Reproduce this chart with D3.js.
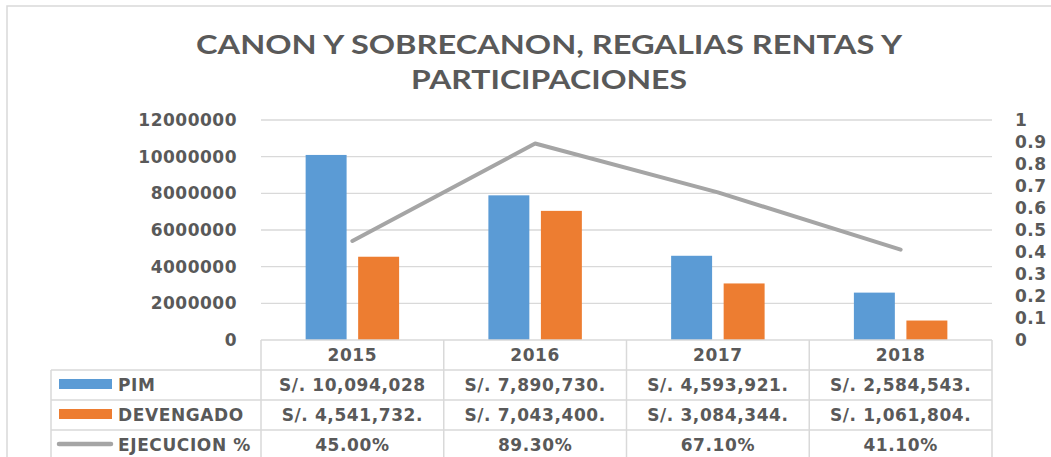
<!DOCTYPE html>
<html>
<head>
<meta charset="utf-8">
<script src="https://d3js.org/d3.v7.min.js"></script>
<style>
  html, body { margin: 0; padding: 0; background: #fff; }
  svg { display: block; }
</style>
</head>
<body>
<div id="chart"></div>
<script>
// Canon y sobrecanon chart - bars + line with data table underneath

const years = ['2015', '2016', '2017', '2018'];
const pim = [10094028, 7890730, 4593921, 2584543];
const devengado = [4541732, 7043400, 3084344, 1061804];
const ejecucion = [0.45, 0.893, 0.671, 0.411];

const pimLabels = ['S/. 10,094,028', 'S/. 7,890,730.', 'S/. 4,593,921.', 'S/. 2,584,543.'];
const devLabels = ['S/. 4,541,732.', 'S/. 7,043,400.', 'S/. 3,084,344.', 'S/. 1,061,804.'];
const ejecLabels = ['45.00%', '89.30%', '67.10%', '41.10%'];

const leftTicks = [0, 2000000, 4000000, 6000000, 8000000, 10000000, 12000000];
const rightTicks = [0, 0.1, 0.2, 0.3, 0.4, 0.5, 0.6, 0.7, 0.8, 0.9, 1];

const titleLines = ['CANON Y SOBRECANON, REGALIAS RENTAS Y', 'PARTICIPACIONES'];

const width = 1051;
const height = 457;
const textColor = '#595959';
const gridColor = '#d9d9d9';
const colors = { pim: '#5b9bd5', dev: '#ed7d31', ejec: '#a5a5a5' };
const tableFont = '"DejaVu Sans", Verdana, sans-serif';

const svg = d3.select('#chart')
  .append('svg')
  .attr('width', width)
  .attr('height', height);

// outer frame of the chart object
svg.append('rect')
  .attr('x', 7)
  .attr('y', 6)
  .attr('width', width + 20)
  .attr('height', height + 20)
  .style('fill', '#fff')
  .style('stroke', gridColor)
  .style('stroke-width', 1.5);

// Title
svg.selectAll('.title')
  .data(titleLines)
  .enter()
  .append('text')
  .attr('class', 'title')
  .attr('x', 549)
  .attr('y', (d, i) => 54 + i * 35)
  .attr('text-anchor', 'middle')
  .attr('textLength', (d, i) => i === 0 ? 706 : 276)
  .attr('lengthAdjust', 'spacingAndGlyphs')
  .style('font-family', 'Lato, "Open Sans", sans-serif')
  .style('font-size', '27px')
  .style('font-weight', 'bold')
  .style('fill', textColor)
  .text(d => d);

// Scales
const plotLeft = 261, plotRight = 992, plotTop = 120, plotBottom = 340;

const x = d3.scaleBand()
  .domain(years)
  .range([plotLeft, plotRight]);

const xInner = d3.scaleBand()
  .domain(['pim', 'dev'])
  .range([0, x.bandwidth()])
  .paddingInner(0.22)
  .paddingOuter(0.85);

const yLeft = d3.scaleLinear()
  .domain([0, 12000000])
  .range([plotBottom, plotTop]);

const yRight = d3.scaleLinear()
  .domain([0, 1])
  .range([plotBottom, plotTop]);

// Gridlines
svg.selectAll('.grid')
  .data(leftTicks.filter(d => d > 0))
  .enter()
  .append('line')
  .attr('class', 'grid')
  .attr('x1', plotLeft)
  .attr('x2', plotRight)
  .attr('y1', d => yLeft(d))
  .attr('y2', d => yLeft(d))
  .style('stroke', gridColor)
  .style('stroke-width', 1.3);

// Axes
const leftAxis = svg.append('g')
  .attr('transform', `translate(${plotLeft},0)`)
  .call(d3.axisLeft(yLeft).tickValues(leftTicks).tickSize(0).tickPadding(24).tickFormat(d3.format('d')));

const rightAxis = svg.append('g')
  .attr('transform', `translate(${plotRight},0)`)
  .call(d3.axisRight(yRight).tickValues(rightTicks).tickSize(0).tickPadding(23).tickFormat(d => String(+d.toFixed(1))));

[leftAxis, rightAxis].forEach(ax => {
  ax.select('.domain').remove();
  ax.selectAll('text')
    .style('font-family', tableFont)
    .style('font-size', '17px')
    .style('letter-spacing', '0.5px')
    .style('font-weight', 'bold')
    .style('fill', textColor);
});

// Bars
const series = [
  { key: 'pim', values: pim },
  { key: 'dev', values: devengado }
];

series.forEach(s => {
  svg.selectAll('.bar-' + s.key)
    .data(years)
    .enter()
    .append('rect')
    .attr('class', 'bar-' + s.key)
    .attr('x', d => x(d) + xInner(s.key))
    .attr('width', xInner.bandwidth())
    .attr('y', (d, i) => yLeft(s.values[i]))
    .attr('height', (d, i) => plotBottom - yLeft(s.values[i]))
    .style('fill', colors[s.key]);
});

// Line (secondary axis)
const line = d3.line()
  .x((d, i) => x(years[i]) + x.bandwidth() / 2)
  .y(d => yRight(d));

svg.append('path')
  .datum(ejecucion)
  .attr('d', line)
  .style('fill', 'none')
  .style('stroke', colors.ejec)
  .style('stroke-width', 4)
  .style('stroke-linecap', 'round')
  .style('stroke-linejoin', 'round');

// Data table
const legendLeft = 51;
const rowH = 30;
const tableRows = [
  { name: 'PIM', labels: pimLabels, swatch: 'bar', color: colors.pim },
  { name: 'DEVENGADO', labels: devLabels, swatch: 'bar', color: colors.dev },
  { name: 'EJECUCION %', labels: ejecLabels, swatch: 'line', color: colors.ejec }
];
const tableBottom = plotBottom + rowH * (tableRows.length + 1);

const tbl = svg.append('g').attr('class', 'table');

// horizontal lines
tbl.append('line')
  .attr('x1', plotLeft).attr('x2', plotRight)
  .attr('y1', plotBottom).attr('y2', plotBottom);
tableRows.concat([null]).forEach((r, i) => {
  const yy = plotBottom + rowH * (i + 1);
  tbl.append('line')
    .attr('x1', legendLeft).attr('x2', plotRight)
    .attr('y1', yy).attr('y2', yy);
});

// vertical lines
years.forEach(yr => {
  tbl.append('line')
    .attr('x1', x(yr)).attr('x2', x(yr))
    .attr('y1', plotBottom).attr('y2', tableBottom);
});
tbl.append('line')
  .attr('x1', plotRight).attr('x2', plotRight)
  .attr('y1', plotBottom).attr('y2', tableBottom);
tbl.append('line')
  .attr('x1', legendLeft).attr('x2', legendLeft)
  .attr('y1', plotBottom + rowH).attr('y2', tableBottom);

tbl.selectAll('line')
  .style('stroke', gridColor)
  .style('stroke-width', 1.5);

// header row (years)
tbl.selectAll('.year')
  .data(years)
  .enter()
  .append('text')
  .attr('class', 'year')
  .attr('x', d => x(d) + x.bandwidth() / 2)
  .attr('y', plotBottom + rowH / 2 + 6)
  .attr('text-anchor', 'middle')
  .text(d => d);

tableRows.forEach((r, i) => {
  const cy = plotBottom + rowH * (i + 1) + rowH / 2;

  if (r.swatch === 'bar') {
    tbl.append('rect')
      .attr('x', 59)
      .attr('y', cy - 6)
      .attr('width', 53)
      .attr('height', 10)
      .style('fill', r.color);
  } else {
    tbl.append('line')
      .attr('x1', 59).attr('x2', 111)
      .attr('y1', cy - 1).attr('y2', cy - 1)
      .style('stroke', r.color)
      .style('stroke-width', 4.5)
      .style('stroke-linecap', 'round');
  }

  tbl.append('text')
    .attr('x', 118)
    .attr('y', cy + 6)
    .text(r.name);

  tbl.selectAll('.cell-' + i)
    .data(r.labels)
    .enter()
    .append('text')
    .attr('class', 'cell-' + i)
    .attr('x', (d, j) => x(years[j]) + x.bandwidth() / 2)
    .attr('y', cy + 6)
    .attr('text-anchor', 'middle')
    .text(d => d);
});

tbl.selectAll('text')
  .style('font-family', tableFont)
  .style('font-size', '17px')
  .style('letter-spacing', '0.6px')
  .style('font-weight', 'bold')
  .style('fill', textColor);
</script>
</body>
</html>
